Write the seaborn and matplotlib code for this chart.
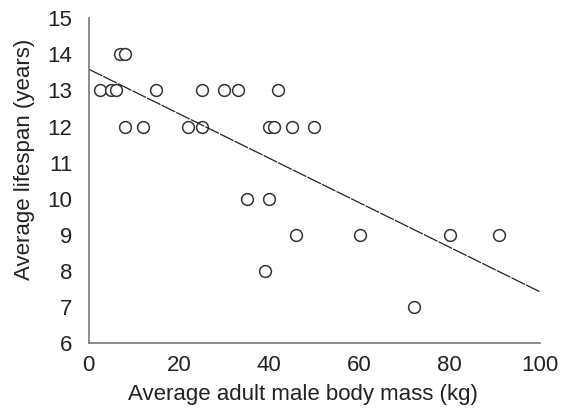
import pandas as pd
import matplotlib
matplotlib.use("Agg")
import matplotlib.pyplot as plt
import seaborn as sns

# values
body_mass = [2.5, 5, 6, 7, 8, 8, 12, 15, 22, 25, 25, 30, 33, 42, 40, 41, 45, 50,
             35, 40, 46, 60, 39, 80, 91, 72]
lifespan = [13, 13, 13, 14, 14, 12, 12, 13, 12, 13, 12, 13, 13, 13, 12, 12, 12, 12,
            10, 10, 9, 9, 8, 9, 9, 7]
x_ticks = [0, 20, 40, 60, 80, 100]
y_ticks = [6, 7, 8, 9, 10, 11, 12, 13, 14, 15]

df = pd.DataFrame({'mass': body_mass, 'life': lifespan})

sns.set_style("white")
plt.rcParams['font.family'] = ['Liberation Sans', 'DejaVu Sans']

fig = plt.figure(figsize=(5.62, 4.15), dpi=100)
ax = fig.add_axes([0.158, 0.1735, 0.803, 0.7825])
ax.set_xlim(0, 100)
ax.set_ylim(6, 15)

sns.regplot(data=df, x='mass', y='life', ax=ax, ci=None, truncate=False,
            scatter_kws=dict(s=72, facecolors='white', edgecolors='#333333', linewidths=1.1, alpha=1),
            line_kws=dict(color='#222222', lw=0.9, dashes=(12, 1)))

ax.set_xlim(0, 100)
ax.set_ylim(6, 15)
ax.set_xticks(x_ticks)
ax.set_yticks(y_ticks)
ax.set_xlabel('Average adult male body mass (kg)', fontsize=16, color='#222222')
ax.set_ylabel('Average lifespan (years)', fontsize=16, color='#222222')
ax.xaxis.set_label_coords(0.475, -0.125)
ax.yaxis.set_label_coords(-0.12, 0.565)
ax.tick_params(axis='both', labelsize=16, width=1, color='#777777', labelcolor='#222222')
ax.tick_params(axis='x', direction='in', length=3, pad=9)
ax.tick_params(axis='y', direction='out', length=3, pad=9)
sns.despine(ax=ax)
for s in ['left', 'bottom']:
    ax.spines[s].set_color('#777777')
    ax.spines[s].set_linewidth(1.2)

plt.savefig('out.png', dpi=100)
plt.close()
